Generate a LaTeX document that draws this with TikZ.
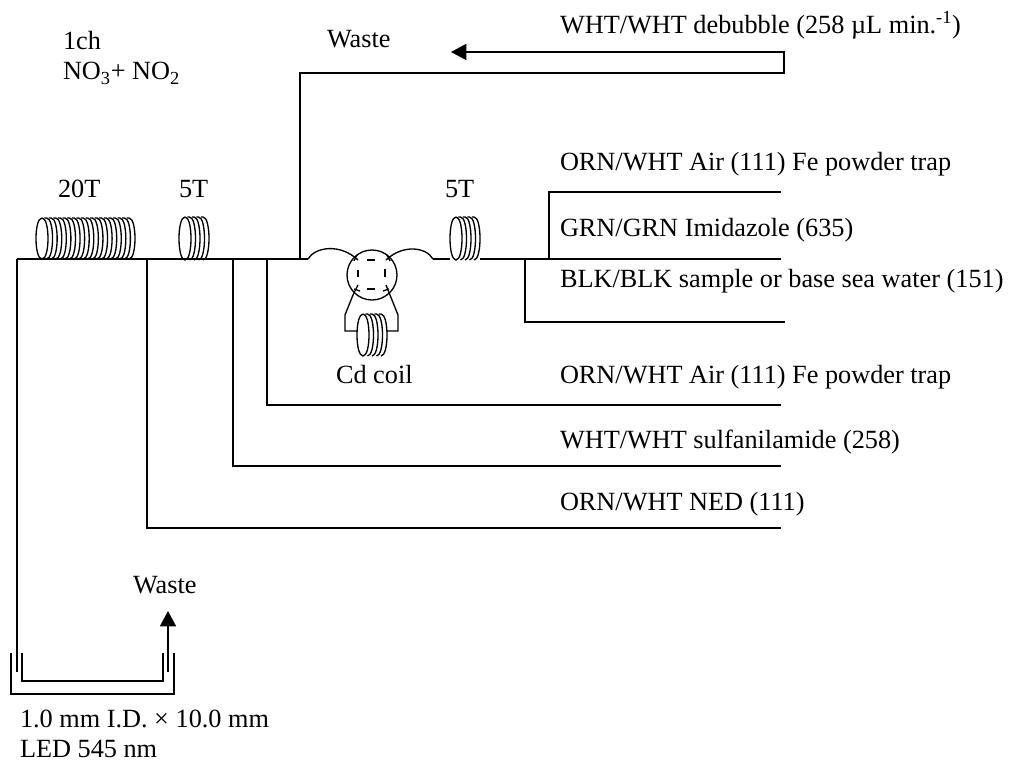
\documentclass[tikz,border=0pt]{standalone}
\usepackage{fontspec}
\setmainfont{Liberation Serif}
\usetikzlibrary{arrows.meta}
\newcommand{\coilshape}[5]{% x of first centre, x of last centre, ytop, ybot, n
  \draw[coilline] (#1,#3) .. controls (#1-8,#3) and (#1-8,#4) .. (#1,#4) .. controls (#1+8,#4) and (#1+8,#3) .. (#1,#3);
  \pgfmathsetmacro{\stepx}{(#2-#1)/(#5-1)}
  \foreach \i in {1,...,\numexpr#5-1\relax}{
    \pgfmathsetmacro{\cx}{#1+\i*\stepx}
    \draw[coilline] (\cx-\stepx*0.5,#3) -- (\cx,#3) .. controls (\cx+8,#3) and (\cx+8,#4) .. (\cx,#4);
  }
}
\tikzset{
  pipe/.style={line width=1.25pt},
  coilline/.style={line width=1pt},
  valve/.style={line width=1pt},
  label/.style={anchor=base west,inner sep=0pt,outer sep=0pt,font=\fontsize{19.7pt}{22pt}\selectfont},
  flow/.style={pipe,-{Triangle[length=11.5pt,width=12pt]}},
}
\begin{document}
\begin{tikzpicture}[x=0.75pt,y=-0.75pt]
\useasboundingbox (0,0) rectangle (1013,762);
\fill[white] (0,0) rectangle (1013,762);
% junction coordinates
\coordinate (mainL) at (17,259);
\coordinate (cL) at (308,259);
\coordinate (cR) at (433,259);
\coordinate (coilRin) at (450,259);
\coordinate (coilRout) at (480,259);
\coordinate (mainR) at (781,259);
% main line
\draw[pipe] (mainL) -- (cL);
\draw[pipe] (cR) -- (coilRin);
\draw[pipe] (coilRout) -- (mainR);
% branches
\coordinate (wTop) at (784,73);
\coordinate (wUp) at (784,52);
\coordinate (wEnd) at (451,52);
\draw[pipe,line join=miter] (300,259) -- (300,73) -- (wTop) -- (wUp);
\draw[flow] (784.8,52) -- (wEnd);
\draw[pipe] (549,258) -- (549,192) -- (781,192);
\draw[pipe] (525,260) -- (525,322) -- (785,322);
\draw[pipe] (267,259) -- (267,405) -- (781,405);
\draw[pipe] (233,259) -- (233,466) -- (781,466);
\draw[pipe] (147,259) -- (147,528) -- (781,528);
% to flow cell
\draw[pipe] (mainL) -- (17,672);
\draw[pipe] (22,653) -- (22,681) -- (163,681) -- (163,653);
\draw[line width=1pt] (11,653) -- (11,694) -- (174,694) -- (174,653);
\coordinate (cellOut) at (168,672);
\coordinate (cellTip) at (168,611);
\draw[flow] (cellOut) -- (cellTip);
% coils
\coilshape{42}{129}{218}{259}{20}
\coilshape{185}{203}{217}{260}{5}
\coilshape{456}{474}{217}{260}{5}
\coilshape{363}{381}{314}{356}{5}
% valve
\draw[valve] (372,275) circle (25);
\draw[coilline] (cL) .. controls (315,247) and (340,243) .. (358,260);
\draw[coilline] (386,260) .. controls (403,244) and (426,247) .. (cR);
\draw[valve] (367,260) -- (375,260);
\draw[valve] (367,289) -- (375,289);
\draw[valve] (358,270) -- (358,277);
\draw[valve] (385,269) -- (385,277);
\draw[valve] (354,261) -- (357,255);
\draw[valve] (390,261) -- (387,255);
\draw[valve] (358,285) -- (353,295);
\draw[valve] (354,289) -- (360,291);
\draw[valve] (386,285) -- (390,295);
\draw[valve] (389,289) -- (383,291);
\draw[coilline] (353,295) -- (345,315) -- (345,331) -- (357,331);
\draw[coilline] (390,295) -- (398,315) -- (398,331) -- (387,331);
% labels
\node[label] (t1) at (560,34) {WHT/WHT debubble (258 µL min.\textsuperscript{-1})};
\node[label] (t2) at (327,48) {Waste};
\node[label] (t3) at (63,50) {1ch};
\node[label] (t4) at (63,80) {NO\textsubscript{3}+ NO\textsubscript{2}};
\node[label] (t5) at (58,198) {20T};
\node[label] (t6) at (179,198) {5T};
\node[label] (t7) at (445,198) {5T};
\node[label] (t8) at (560,171) {ORN/WHT Air (111) Fe powder trap};
\node[label] (t9) at (560,237) {GRN/GRN Imidazole (635)};
\node[label] (t10) at (560,288) {BLK/BLK sample or base sea water (151)};
\node[label] (t11) at (336,384) {Cd coil};
\node[label] (t12) at (560,384) {ORN/WHT Air (111) Fe powder trap};
\node[label] (t13) at (560,449) {WHT/WHT sulfanilamide (258)};
\node[label] (t14) at (560,510) {ORN/WHT NED (111)};
\node[label] (t15) at (133,593) {Waste};
\node[label] (t16) at (20,727) {1.0 mm I.D. × 10.0 mm};
\node[label] (t17) at (20,757) {LED 545 nm};
\end{tikzpicture}
\end{document}
